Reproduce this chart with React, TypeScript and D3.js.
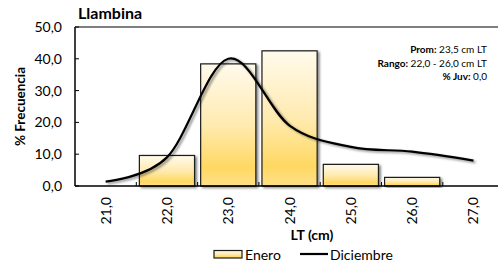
import { useMemo, type FC } from 'react';
import * as d3 from 'd3';

// LT (cm) classes
const categories = ['21,0', '22,0', '23,0', '24,0', '25,0', '26,0', '27,0'];
// Enero (% frecuencia)
const eneroValues = [0, 9.6, 38.4, 42.5, 6.8, 2.7, 0];
// Diciembre (% frecuencia)
const diciembreValues = [1.4, 9.0, 40.0, 19.0, 12.3, 10.8, 8.0];
const yTicks = [0, 10, 20, 30, 40, 50];

const annotations = [
  { label: 'Prom:', value: ' 23,5 cm LT' },
  { label: 'Rango:', value: ' 22,0 - 26,0 cm LT' },
  { label: '% Juv:', value: ' 0,0' },
];

const WIDTH = 498;
const HEIGHT = 265;
const FONT = 'Lato, "Open Sans", sans-serif';

const App: FC = () => {
  const left = 75;
  const top = 27;
  const bottom = 186;
  const right = left + 7 * 61.3;

  const x = useMemo(
    () =>
      d3
        .scaleBand<string>()
        .domain(categories)
        .range([left, right])
        .paddingInner(0.1)
        .paddingOuter(0.05),
    [right],
  );
  const y = useMemo(
    () => d3.scaleLinear().domain([0, 50]).range([bottom, top]),
    [],
  );

  const step = x.step();
  const center = (c: string) => (x(c) ?? 0) + x.bandwidth() / 2;

  const linePath =
    d3
      .line<number>()
      .x((_, i) => center(categories[i]))
      .y((d) => y(d))
      .curve(d3.curveCardinal.tension(0))(diciembreValues) ?? '';

  const fmt = (v: number) => v.toFixed(1).replace('.', ',');

  return (
    <svg
      width={WIDTH}
      height={HEIGHT}
      style={{ position: 'absolute', left: 0, top: 0, fontFamily: FONT }}
    >
      <defs>
        <linearGradient id="barGrad" x1="0" y1="0" x2="0" y2="1">
          <stop offset="0" stopColor="#FFFAEC" />
          <stop offset="0.5" stopColor="#FFEBB0" />
          <stop offset="0.85" stopColor="#FFD862" />
          <stop offset="1" stopColor="#FFE089" />
        </linearGradient>
        <filter id="shadow" x="-20%" y="-20%" width="140%" height="140%">
          <feDropShadow dx="2" dy="1.5" stdDeviation="1" floodColor="#000" floodOpacity="0.45" />
        </filter>
      </defs>

      <text x={78} y={19} fontSize={16} fontWeight="bold" fill="#000">
        Llambina
      </text>

      {/* frame */}
      <line x1={left} x2={WIDTH} y1={top} y2={top} stroke="#000" strokeWidth={1.2} />
      <line x1={left} x2={left} y1={top} y2={bottom} stroke="#000" strokeWidth={1.5} />

      {/* y ticks */}
      {yTicks.map((t) => (
        <g key={t}>
          <line x1={left} x2={left + 4} y1={y(t)} y2={y(t)} stroke="#000" strokeWidth={1} />
          <text x={62} y={y(t) + 5} fontSize={14} textAnchor="end" fill="#000">
            {fmt(t)}
          </text>
        </g>
      ))}

      <text
        transform={`translate(25, ${(top + bottom) / 2}) rotate(-90)`}
        fontSize={13.5}
        fontWeight="bold"
        textAnchor="middle"
        fill="#000"
      >
        % Frecuencia
      </text>

      {/* bars */}
      {categories.map((c, i) =>
        eneroValues[i] > 0 ? (
          <rect
            key={c}
            x={x(c)}
            y={y(eneroValues[i])}
            width={x.bandwidth()}
            height={bottom - y(eneroValues[i])}
            fill="url(#barGrad)"
            stroke="#1a1a1a"
            strokeWidth={1.2}
            filter="url(#shadow)"
          />
        ) : null,
      )}

      {/* x axis */}
      <line x1={left} x2={WIDTH} y1={bottom} y2={bottom} stroke="#000" strokeWidth={1.6} />
      {d3.range(1, 8).map((i) => (
        <line
          key={i}
          x1={left + i * step}
          x2={left + i * step}
          y1={bottom}
          y2={bottom - 4}
          stroke="#000"
          strokeWidth={1}
        />
      ))}

      {/* line */}
      <path d={linePath} fill="none" stroke="#000" strokeWidth={2.2} filter="url(#shadow)" />

      {/* x tick labels */}
      {categories.map((c) => (
        <text
          key={c}
          transform={`translate(${center(c) + 5}, 197) rotate(-90)`}
          fontSize={14}
          textAnchor="end"
          fill="#000"
        >
          {c}
        </text>
      ))}

      <text x={312} y={240} fontSize={14} fontWeight="bold" textAnchor="middle" fill="#000">
        LT (cm)
      </text>

      {/* annotations */}
      {annotations.map((a, i) => (
        <text key={a.label} x={487} y={53 + i * 13.5} fontSize={10} textAnchor="end" fill="#000">
          <tspan fontWeight="bold">{a.label}</tspan>
          {a.value}
        </text>
      ))}

      {/* legend */}
      <rect x={214} y={250.5} width={28} height={7.5} fill="url(#barGrad)" stroke="#1a1a1a" strokeWidth={1.2} />
      <text x={245} y={259.5} fontSize={14} fill="#000">
        Enero
      </text>
      <line x1={300} x2={328} y1={254} y2={254} stroke="#000" strokeWidth={2.2} />
      <text x={330} y={259.5} fontSize={14} fill="#000">
        Diciembre
      </text>
    </svg>
  );
};

export default App;
